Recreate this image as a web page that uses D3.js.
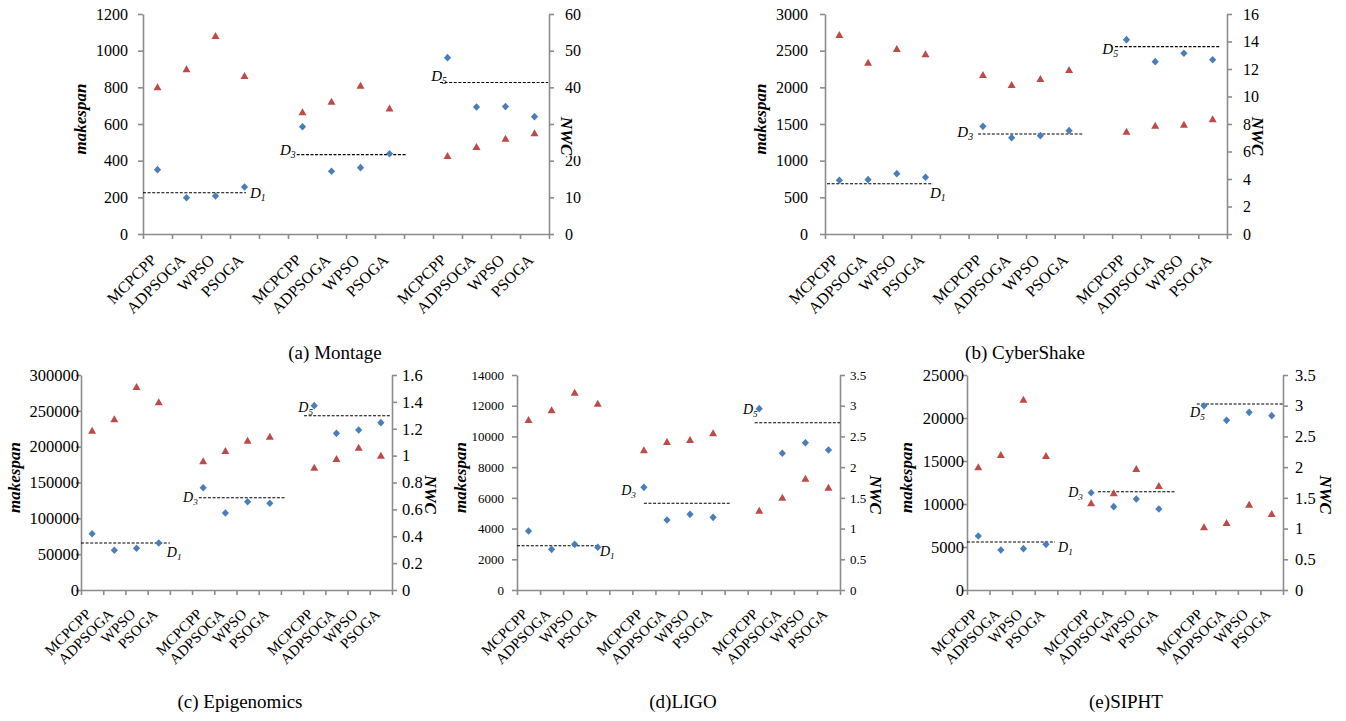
<!DOCTYPE html>
<html>
<head>
<meta charset="utf-8">
<script src="https://cdn.jsdelivr.net/npm/d3@7"></script>
<style>
  body { margin: 0; background: #fff; }
  svg text { font-family: "Liberation Serif", "Times New Roman", serif !important; fill: #000; }
</style>
</head>
<body>
<div id="chart_area"></div>
<script>
// methods inside each deadline group, a blank slot separates the groups
var methods = ["MCPCPP", "ADPSOGA", "WPSO", "PSOGA"];
var deadlineNames = ["1", "3", "5"];

// (a) Montage
var montageMakespan = [351, 198, 207, 256, 585, 342, 362, 438, 962, 693, 695, 640];
var montageNWC = [40.0, 44.9, 54.0, 43.1, 33.2, 36.1, 40.4, 34.2, 21.3, 23.7, 26.0, 27.5];
var montageDeadline = [225, 433, 826];
var montageSpan = [[0, 3.55], [5.3, 9.07], [10.24, 13.97]];
var montageLeftTicks = [0, 200, 400, 600, 800, 1000, 1200];
var montageRightTicks = [0, 10, 20, 30, 40, 50, 60];

// (b) CyberShake
var cyberMakespan = [732, 741, 823, 773, 1468, 1314, 1341, 1409, 2650, 2350, 2464, 2377];
var cyberNWC = [14.47, 12.46, 13.45, 13.07, 11.56, 10.84, 11.27, 11.93, 7.44, 7.88, 7.95, 8.34];
var cyberDeadline = [686, 1364, 2555];
var cyberSpan = [[0.07, 3.76], [5.33, 8.99], [10.1, 13.73]];
var cyberLeftTicks = [0, 500, 1000, 1500, 2000, 2500, 3000];
var cyberRightTicks = [0, 2, 4, 6, 8, 10, 12, 14, 16];

// (c) Epigenomics
var epiMakespan = [78560, 55400, 58190, 65580, 142700, 107400, 123200, 121000, 257200, 218600, 223300, 233500];
var epiNWC = [1.186, 1.270, 1.511, 1.397, 0.958, 1.034, 1.111, 1.141, 0.910, 0.975, 1.059, 1.000];
var epiDeadline = [65600, 128800, 243200];
var epiSpan = [[0, 4.0], [5.3, 9.23], [10.04, 13.96]];
var epiLeftTicks = [0, 50000, 100000, 150000, 200000, 250000, 300000];
var epiRightTicks = [0, 0.2, 0.4, 0.6, 0.8, 1, 1.2, 1.4, 1.6];

// (d) LIGO
var ligoMakespan = [3842, 2648, 2974, 2779, 6685, 4558, 4927, 4732, 11810, 8900, 9593, 9116];
var ligoNWC = [2.767, 2.925, 3.212, 3.033, 2.274, 2.409, 2.442, 2.551, 1.291, 1.503, 1.812, 1.666];
var ligoDeadline = [2886, 5644, 10894];
var ligoSpan = [[0, 3.55], [5.5, 9.28], [10.3, 14]];
var ligoLeftTicks = [0, 2000, 4000, 6000, 8000, 10000, 12000, 14000];
var ligoRightTicks = [0, 0.5, 1, 1.5, 2, 2.5, 3, 3.5];

// (e) SIPHT
var siphtMakespan = [6279, 4651, 4806, 5310, 11314, 9690, 10581, 9419, 21430, 19729, 20659, 20271];
var siphtNWC = [1.997, 2.198, 3.098, 2.181, 1.411, 1.574, 1.970, 1.693, 1.020, 1.091, 1.389, 1.237];
var siphtDeadline = [5581, 11430, 21628];
var siphtSpan = [[0, 3.9], [5.8, 9.2], [10.18, 14]];
var siphtLeftTicks = [0, 5000, 10000, 15000, 20000, 25000];
var siphtRightTicks = [0, 0.5, 1, 1.5, 2, 2.5, 3, 3.5];

var panels = [
    { title: "(a) Montage", ms: montageMakespan, nwc: montageNWC, dl: montageDeadline, span: montageSpan,
      lt: montageLeftTicks, rt: montageRightTicks,
      box: [143, 549, 14, 234], font: 16, xfont: 16, xdy: 27, lgap: 15, rgap: 16,
      msX: 80, nwcX: 566, nwcFill: true, titleX: 335, titleY: 359, dfont: 15,
      dlab: [["end", 4, 5], ["start", -1, 0], ["start", 7, -2]] },
    { title: "(b) CyberShake", ms: cyberMakespan, nwc: cyberNWC, dl: cyberDeadline, span: cyberSpan,
      lt: cyberLeftTicks, rt: cyberRightTicks,
      box: [825, 1227, 14, 234], font: 16, xfont: 16, xdy: 27, lgap: 17, rgap: 16,
      msX: 760, nwcX: 1257, titleX: 1025, titleY: 359, dfont: 15,
      dlab: [["end", -3, 14], ["start", -5, 3], ["start", 3, 7]] },
    { title: "(c) Epigenomics", ms: epiMakespan, nwc: epiNWC, dl: epiDeadline, span: epiSpan,
      lt: epiLeftTicks, rt: epiRightTicks,
      box: [81, 392, 375, 590], font: 16.5, xfont: 15, xdy: 25, lgap: 2, rgap: 10,
      msX: 14, nwcX: 430, titleX: 240, titleY: 708, dfont: 14,
      dlab: [["end", -3, 14], ["start", -1, 4], ["start", 9, -4]] },
    { title: "(d)LIGO", ms: ligoMakespan, nwc: ligoNWC, dl: ligoDeadline, span: ligoSpan,
      lt: ligoLeftTicks, rt: ligoRightTicks,
      box: [517, 840, 375, 590], font: 13, xfont: 15, xdy: 25, lgap: 13, rgap: 10,
      msX: 460, nwcX: 875, titleX: 683, titleY: 708, dfont: 14,
      dlab: [["end", 1, 10], ["start", -8, -8], ["start", 3, -9]] },
    { title: "(e)SIPHT", ms: siphtMakespan, nwc: siphtNWC, dl: siphtDeadline, span: siphtSpan,
      lt: siphtLeftTicks, rt: siphtRightTicks,
      box: [967, 1283, 375, 590], font: 16.5, xfont: 15, xdy: 25, lgap: 3, rgap: 12,
      msX: 906, nwcX: 1325, titleX: 1126, titleY: 708, dfont: 14,
      dlab: [["end", 3, 10], ["start", -15, 5], ["start", 8, 13]] }
];

var blue = "#4a7ebb", red = "#be4b48", axisGrey = "#8c8c8c";
var serif = "Liberation Serif, Times New Roman, serif";

var svg = d3.select("#chart_area")
    .append("svg")
    .attr("width", 1346)
    .attr("height", 721)
    .attr("font-family", serif);

svg.append("rect").attr("width", 1346).attr("height", 721).attr("fill", "#fff");

var defs = svg.append("defs");
defs.append("filter").attr("id", "soft")
    .attr("x", "-10%").attr("y", "-200%").attr("width", "120%").attr("height", "500%")
    .append("feGaussianBlur").attr("stdDeviation", 1.6);

// category slot of a point: group g, method m
function slot(i) { return Math.floor(i / 4) * 5 + (i % 4); }

panels.forEach(function (p) {
    var L = p.box[0], R = p.box[1], T = p.box[2], B = p.box[3];
    var lmax = p.lt[p.lt.length - 1], rmax = p.rt[p.rt.length - 1];

    var x = d3.scaleLinear().domain([0, 14]).range([L, R]);
    var yL = d3.scaleLinear().domain([0, lmax]).range([B, T]);
    var yR = d3.scaleLinear().domain([0, rmax]).range([B, T]);

    var g = svg.append("g");

    // axes
    var ax = g.append("g").attr("transform", "translate(0," + B + ")")
        .call(d3.axisBottom(x).tickValues(d3.range(15)).tickFormat("").tickSize(5).tickSizeOuter(0));
    var al = g.append("g").attr("transform", "translate(" + L + ",0)")
        .call(d3.axisLeft(yL).tickValues(p.lt).tickFormat(function (d) { return d; })
            .tickSize(5).tickSizeOuter(0).tickPadding(p.lgap - 5));
    var ar = g.append("g").attr("transform", "translate(" + R + ",0)")
        .call(d3.axisRight(yR).tickValues(p.rt).tickFormat(function (d) { return d; })
            .tickSize(5).tickSizeOuter(0).tickPadding(p.rgap - 5));
    [ax, al, ar].forEach(function (a) {
        a.attr("font-family", serif).attr("font-size", p.font);
        a.selectAll("path, line").attr("stroke", axisGrey).attr("stroke-width", 1.6);
        a.selectAll("text").attr("fill", "#000");
    });

    // category labels
    d3.range(14).forEach(function (k) {
        if (k % 5 === 4) return;
        g.append("text")
            .attr("transform", "translate(" + x(k + 0.5) + "," + (B + p.xdy) + ")rotate(-45)")
            .attr("text-anchor", "end")
            .attr("font-size", p.xfont)
            .text(methods[k % 5]);
    });

    // axis titles
    g.append("text")
        .attr("transform", "translate(" + p.msX + "," + ((T + B) / 2 - 5) + ")rotate(-90)")
        .attr("text-anchor", "middle").attr("dominant-baseline", "central")
        .attr("font-size", 17).attr("font-weight", "bold").attr("font-style", "italic")
        .text("makespan");
    var ny = (T + B) / 2 + 12;
    if (p.nwcFill) {
        g.append("rect")
            .attr("x", p.nwcX - 10).attr("y", ny - 20).attr("width", 28).attr("height", 40)
            .attr("fill", "#fff");
    }
    g.append("text")
        .attr("transform", "translate(" + p.nwcX + "," + ny + ")rotate(90)")
        .attr("text-anchor", "middle").attr("dominant-baseline", "central")
        .attr("font-size", 17).attr("font-weight", "bold").attr("font-style", "italic")
        .text("NWC");

    // deadline lines with soft shadow
    p.dl.forEach(function (v, j) {
        var x0 = x(p.span[j][0]), x1 = x(p.span[j][1]), yy = yL(v);
        g.append("line")
            .attr("x1", x0).attr("x2", x1).attr("y1", yy + 3).attr("y2", yy + 3)
            .attr("stroke", "#b8b8b8").attr("stroke-width", 3).attr("opacity", 0.7)
            .attr("filter", "url(#soft)");
        g.append("line")
            .attr("x1", x0).attr("x2", x1).attr("y1", yy).attr("y2", yy)
            .attr("stroke", "#000").attr("stroke-width", 1.1)
            .attr("stroke-dasharray", "3,1.6");
        var lab = p.dlab[j];
        var t = g.append("text")
            .attr("x", (lab[0] === "end" ? x1 : x0) + lab[1])
            .attr("y", yy + lab[2])
            .attr("text-anchor", lab[0] === "end" ? "start" : "end")
            .attr("font-size", p.dfont).attr("font-style", "italic");
        t.append("tspan").text("D");
        t.append("tspan").attr("font-size", p.dfont * 0.65).attr("dy", 3).text(deadlineNames[j]);
    });

    // NWC triangles (right axis)
    g.selectAll("path.tri")
        .data(p.nwc)
        .enter()
        .append("path")
        .attr("class", "tri")
        .attr("d", "M0,-4L4,3L-4,3Z")
        .attr("transform", function (d, i) { return "translate(" + x(slot(i) + 0.5) + "," + yR(d) + ")"; })
        .attr("fill", red);

    // makespan diamonds (left axis)
    g.selectAll("path.dia")
        .data(p.ms)
        .enter()
        .append("path")
        .attr("class", "dia")
        .attr("d", "M0,-3.8L3.6,0L0,3.8L-3.6,0Z")
        .attr("transform", function (d, i) { return "translate(" + x(slot(i) + 0.5) + "," + yL(d) + ")"; })
        .attr("fill", blue);

    // panel caption
    svg.append("text")
        .attr("x", p.titleX).attr("y", p.titleY)
        .attr("text-anchor", "middle").attr("font-size", 19)
        .text(p.title);
});
</script>
</body>
</html>
